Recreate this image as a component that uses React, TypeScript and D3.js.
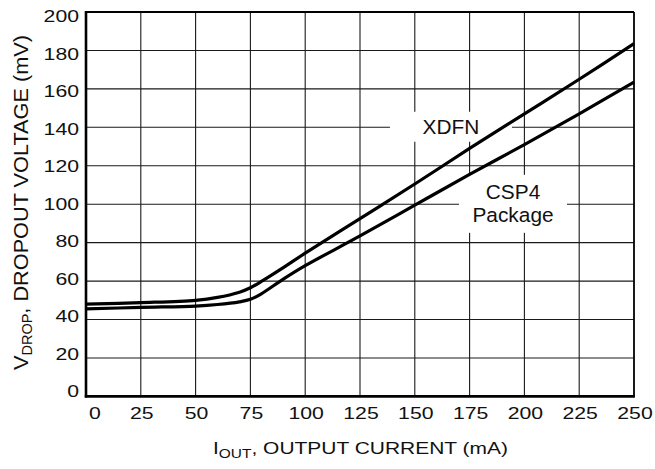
import { useEffect, useRef } from 'react'
import * as d3 from 'd3'

const currentTicks = [0, 25, 50, 75, 100, 125, 150, 175, 200, 225, 250]
const voltageTicks = [0, 20, 40, 60, 80, 100, 120, 140, 160, 180, 200]

const currentPoints = [0, 25, 50, 60, 70, 75, 80, 90, 100, 125, 150, 175, 200, 225, 250]
const xdfnDrop = [48, 48.8, 50, 51.5, 54.2, 56.5, 59.8, 67, 74.5, 92.5, 110.5, 129, 147, 165, 183.5]
const csp4Drop = [45.5, 46.3, 47, 47.8, 49.2, 50.5, 53.4, 61, 68, 83.5, 99.5, 115.5, 131, 147, 163.5]

const labels = [
  { lines: ['XDFN'], current: 166.5, voltage: 140.3, boxW: 122, boxH: 30 },
  { lines: ['CSP4', 'Package'], current: 194.8, voltage: 100.2, boxW: 108, boxH: 58 },
]

const W = 655
const H = 469
const FONT = '"Liberation Sans", Arial, Helvetica, sans-serif'

export default function App() {
  const svgRef = useRef<SVGSVGElement>(null)

  useEffect(() => {
    if (!svgRef.current) return
    const svg = d3.select(svgRef.current)
    svg.selectAll('*').remove()

    const plot = { left: 86, right: 634, top: 12, bottom: 396.4 }

    const x = d3.scaleLinear().domain([0, 250]).range([plot.left, plot.right])
    const y = d3.scaleLinear().domain([0, 200]).range([plot.bottom, plot.top])
    // tick labels sit on a slightly tighter scale than the grid
    const yLabel = d3.scaleLinear().domain([0, 200]).range([391, 16])

    svg.append('rect').attr('width', W).attr('height', H).attr('fill', '#fff')

    const grid = svg.append('g').attr('stroke', '#1a1a1a').attr('stroke-width', 1.1)
    grid.selectAll('.vx')
      .data(currentTicks.slice(1, -1))
      .enter()
      .append('line')
      .attr('x1', d => x(d)).attr('x2', d => x(d))
      .attr('y1', plot.top).attr('y2', plot.bottom)
    grid.selectAll('.hy')
      .data(voltageTicks.slice(1, -1))
      .enter()
      .append('line')
      .attr('x1', plot.left).attr('x2', plot.right)
      .attr('y1', d => y(d)).attr('y2', d => y(d))

    // white boxes behind curve labels
    labels.forEach(l => {
      const cx = x(l.current)
      const cy = y(l.voltage)
      svg.append('rect')
        .attr('x', cx - l.boxW / 2)
        .attr('y', cy - l.boxH / 2)
        .attr('width', l.boxW)
        .attr('height', l.boxH)
        .attr('fill', '#fff')
      l.lines.forEach((t, i) => {
        const by = cy + 7 - ((l.lines.length - 1) * 23) / 2 + i * 23
        svg.append('text')
          .attr('transform', `translate(${cx},${by}) scale(1.07,1)`)
          .attr('text-anchor', 'middle')
          .style('font-family', FONT)
          .style('font-size', '19.5px')
          .attr('fill', '#111')
          .text(t)
      })
    })

    const line = d3.line<number>()
      .x((_, i) => x(currentPoints[i]))
      .y(d => y(d))
      .curve(d3.curveCatmullRom.alpha(0.5))

    ;[xdfnDrop, csp4Drop].forEach(series => {
      svg.append('path')
        .datum(series)
        .attr('fill', 'none')
        .attr('stroke', '#000')
        .attr('stroke-width', 3.2)
        .attr('stroke-linejoin', 'round')
        .attr('d', line)
    })

    // frame
    svg.append('line').attr('x1', plot.left).attr('x2', plot.right).attr('y1', plot.top).attr('y2', plot.top)
      .attr('stroke', '#000').attr('stroke-width', 1.8)
    svg.append('line').attr('x1', plot.right).attr('x2', plot.right).attr('y1', plot.top).attr('y2', plot.bottom)
      .attr('stroke', '#000').attr('stroke-width', 1.8)
    svg.append('line').attr('x1', plot.left).attr('x2', plot.left).attr('y1', plot.top - 0.9).attr('y2', plot.bottom + 1.2)
      .attr('stroke', '#000').attr('stroke-width', 2.6)
    svg.append('line').attr('x1', plot.left - 1.2).attr('x2', plot.right + 0.9).attr('y1', plot.bottom).attr('y2', plot.bottom)
      .attr('stroke', '#000').attr('stroke-width', 2.6)

    const tickStyle = (sel: d3.Selection<SVGTextElement, number, SVGGElement, unknown>) =>
      sel.style('font-family', FONT).style('font-size', '16.6px').attr('fill', '#111')

    svg.append('g').selectAll('text')
      .data(currentTicks)
      .enter()
      .append('text')
      .attr('transform', d => `translate(${x(d) + (d === 0 ? 9 : 1)},419) scale(1.28,1)`)
      .attr('text-anchor', 'middle')
      .call(tickStyle)
      .text(d => d)

    svg.append('g').selectAll('text')
      .data(voltageTicks)
      .enter()
      .append('text')
      .attr('transform', d => `translate(79,${yLabel(d) + 6}) scale(1.28,1)`)
      .attr('text-anchor', 'end')
      .call(tickStyle)
      .text(d => d)

    // axis titles
    const xt = svg.append('text')
      .attr('x', 213)
      .attr('y', 454)
      .attr('textLength', 295)
      .attr('lengthAdjust', 'spacingAndGlyphs')
      .style('font-family', FONT)
      .style('font-size', '16.3px')
      .attr('fill', '#111')
    xt.append('tspan').text('I')
    xt.append('tspan').attr('dy', 4).style('font-size', '12px').text('OUT')
    xt.append('tspan').attr('dy', -4).text(', OUTPUT CURRENT (mA)')

    const yt = svg.append('text')
      .attr('transform', 'translate(28,370) rotate(-90)')
      .attr('x', 0)
      .attr('y', 0)
      .attr('textLength', 335)
      .attr('lengthAdjust', 'spacingAndGlyphs')
      .style('font-family', FONT)
      .style('font-size', '21px')
      .attr('fill', '#111')
    yt.append('tspan').text('V')
    yt.append('tspan').attr('dy', 4).style('font-size', '14px').text('DROP')
    yt.append('tspan').attr('dy', -4).text(', DROPOUT VOLTAGE (mV)')
  }, [])

  return (
    <div style={{ position: 'absolute', left: 0, top: 0 }}>
      <svg ref={svgRef} width={W} height={H} style={{ display: 'block' }} />
    </div>
  )
}
